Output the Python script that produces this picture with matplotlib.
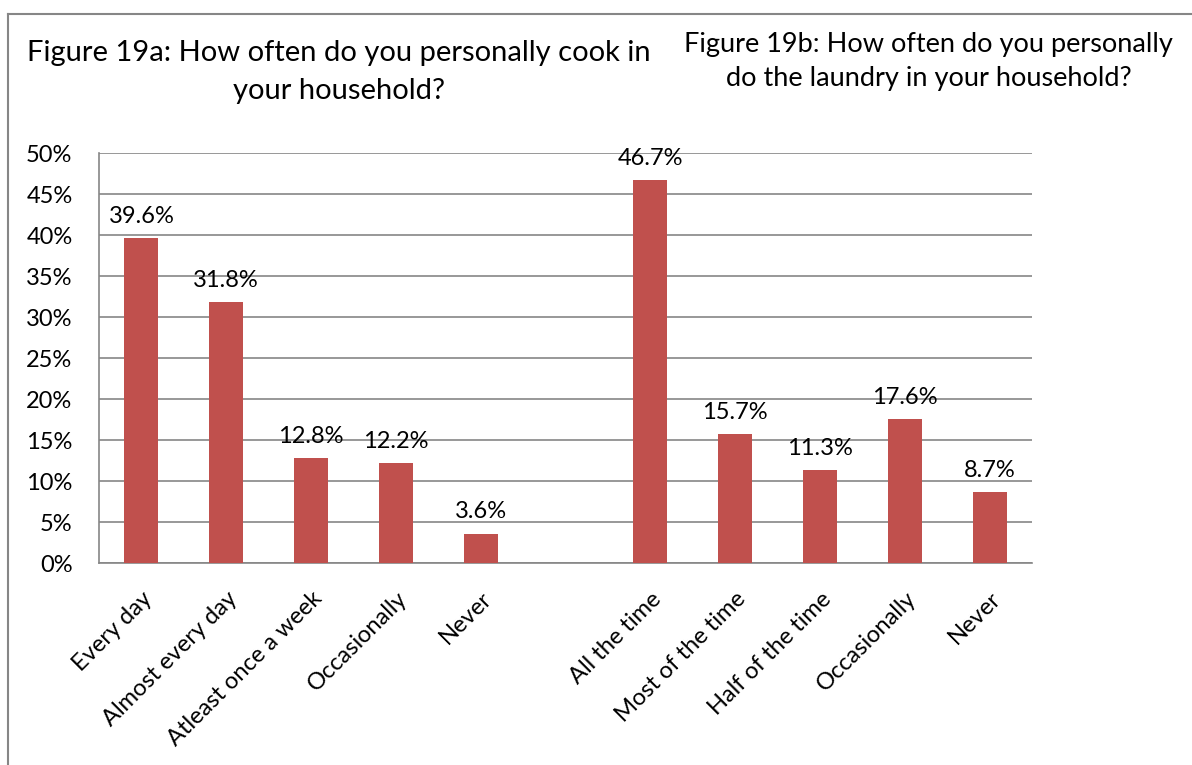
import numpy as np
import matplotlib.pyplot as plt
from matplotlib.lines import Line2D
from matplotlib.ticker import FuncFormatter

plt.rcParams['font.family'] = ['Lato', 'DejaVu Sans']

# Survey responses (percent)
cook_labels = ['Every day', 'Almost every day', 'Atleast once a week', 'Occasionally', 'Never']
cook_values = [39.6, 31.8, 12.8, 12.2, 3.6]
laundry_labels = ['All the time', 'Most of the time', 'Half of the time', 'Occasionally', 'Never']
laundry_values = [46.7, 15.7, 11.3, 17.6, 8.7]

title_a = 'Figure 19a: How often do you personally cook in\nyour household?'
title_b = 'Figure 19b: How often do you personally\ndo the laundry in your household?'

bar_color = '#C0504D'
grid_color = '#868686'

# both questions share one axis, with an empty slot between them
labels = cook_labels + [''] + laundry_labels
values = cook_values + [np.nan] + laundry_values
x = np.arange(len(labels))

fig = plt.figure(figsize=(11.92, 7.65), dpi=100)
ax = fig.add_axes([0.083, 0.264, 0.783, 0.536])

ax.bar(x, values, width=0.4, color=bar_color, zorder=3)
for xi, v in zip(x, values):
    if np.isnan(v):
        continue
    ax.annotate(f'{v:.1f}%', (xi, v), xytext=(0, 8), textcoords='offset points',
                ha='center', va='bottom', fontsize=17)

ax.set_xlim(-0.5, len(labels) - 0.5)
ax.set_ylim(0, 50)
ax.set_yticks(np.arange(0, 51, 5))
ax.yaxis.set_major_formatter(FuncFormatter(lambda v, p: f'{v:.0f}%'))
ax.yaxis.grid(True, color=grid_color, linewidth=1.2, zorder=0)
ax.set_xticks(x)
ax.set_xticklabels(labels, rotation=45, ha='right', rotation_mode='anchor')
ax.tick_params(axis='both', length=0, labelsize=17)
ax.tick_params(axis='y', pad=19)
ax.tick_params(axis='x', pad=18)

for side in ['top', 'right']:
    ax.spines[side].set_visible(False)
for side in ['left', 'bottom']:
    ax.spines[side].set_color(grid_color)
    ax.spines[side].set_linewidth(1.2)

fig.text(0.284, 0.906, title_a, ha='center', va='center', fontsize=21, linespacing=1.55)
fig.text(0.779, 0.919, title_b, ha='center', va='center', fontsize=19.5, linespacing=1.45)

# chart frame
fig.add_artist(Line2D([0.0067, 0.0067], [0, 0.9817], color=grid_color, linewidth=1.5))
fig.add_artist(Line2D([0.0067, 1], [0.9817, 0.9817], color=grid_color, linewidth=1.5))

fig.savefig('out.png', dpi=100)
